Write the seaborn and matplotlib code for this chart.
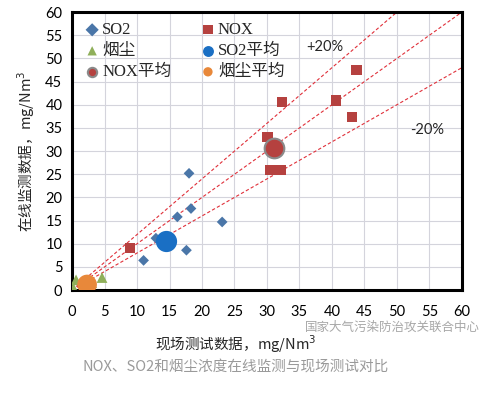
import numpy as np
import pandas as pd
import matplotlib.pyplot as plt
import seaborn as sns

# data
so2_x = [18.0, 18.3, 16.2, 23.1, 12.9, 17.6, 11.0]
so2_y = [25.2, 17.6, 15.8, 14.7, 11.2, 8.6, 6.4]
nox_x = [8.9, 30.1, 30.5, 32.1, 32.3, 40.6, 43.8, 43.1]
nox_y = [9.1, 33.0, 25.9, 25.9, 40.6, 40.9, 47.5, 37.3]
dust_x = [0.6, 4.6, 0.2, 2.0, 3.0]
dust_y = [2.2, 2.7, 0.4, 1.0, 1.6]
so2_avg = (14.4, 10.6)
nox_avg = (31.1, 30.6)
dust_avg = (2.3, 1.2)

ref_x = [0, 60]
ref_slopes = [1.2, 1.0, 0.8]

ticks = list(range(0, 61, 5))

sns.set_style("white")
plt.rcParams['font.family'] = ['Lato', 'Noto Sans CJK SC', 'DejaVu Sans']

fig = plt.figure(figsize=(4.81, 3.93), dpi=100)
ax = fig.add_axes([0.150, 0.262, 0.810, 0.707])

# reference lines
for k in ref_slopes:
    ax.plot(ref_x, [k * v for v in ref_x], ls=(0, (3, 2)), color="#e0303a",
            lw=0.8, zorder=2)

df_so2 = pd.DataFrame({"x": so2_x, "y": so2_y})
df_nox = pd.DataFrame({"x": nox_x, "y": nox_y})
df_dust = pd.DataFrame({"x": dust_x, "y": dust_y})

sns.scatterplot(data=df_so2, x="x", y="y", marker="D", s=30, color="#4a76a8",
                edgecolor="none", label="SO2", ax=ax, zorder=3)
sns.scatterplot(data=df_nox, x="x", y="y", marker="s", s=55, color="#b5413f",
                edgecolor="none", label="NOX", ax=ax, zorder=3)
sns.scatterplot(data=df_dust, x="x", y="y", marker="^", s=60, color="#8faf5a",
                edgecolor="none", label="烟尘", ax=ax, zorder=3)
sns.scatterplot(x=[so2_avg[0]], y=[so2_avg[1]], marker="o", s=200,
                color="#1a6fc4", edgecolor="#1a6fc4", label="SO2平均", ax=ax, zorder=4)
sns.scatterplot(x=[nox_avg[0]], y=[nox_avg[1]], marker="o", s=200,
                color="#b5413f", edgecolor="#8a8a8a", linewidth=1.5,
                label="NOX平均", ax=ax, zorder=4)
sns.scatterplot(x=[dust_avg[0]], y=[dust_avg[1]], marker="o", s=200,
                color="#e8883a", edgecolor="none", label="烟尘平均", ax=ax, zorder=4)

ax.set_xlim(0, 60)
ax.set_ylim(0, 60)
ax.set_xticks(ticks)
ax.set_yticks(ticks)
ax.grid(True, color="#d4d4dc", lw=0.8)
ax.set_axisbelow(True)
for sp in ax.spines.values():
    sp.set_color("black")
    sp.set_linewidth(2.2)
ax.tick_params(axis="both", direction="out", length=4, width=1, labelsize=10.5,
               colors="black", pad=3)
ax.tick_params(axis="x", pad=7)

ax.set_xlabel("现场测试数据，mg/Nm$^3$", fontsize=10.5,
              family=['Noto Sans CJK SC', 'DejaVu Serif'])
ax.xaxis.set_label_coords(0.42, -0.155)
ax.set_ylabel("在线监测数据，mg/Nm$^3$", fontsize=10.5, labelpad=6,
              family=['Noto Sans CJK SC', 'DejaVu Serif'])

ax.text(38.9, 52.4, "+20%", fontsize=10.5, ha="center", va="center")
ax.text(54.6, 34.5, "-20%", fontsize=10.5, ha="center", va="center")

# legend filled row by row like the original
h, l = ax.get_legend_handles_labels()
order = [0, 2, 4, 1, 3, 5]
leg = ax.legend([h[i] for i in order], [l[i] for i in order],
                loc="upper left", ncol=2, frameon=False,
                handletextpad=0.0, columnspacing=1.6, labelspacing=0.3,
                borderaxespad=0.2, handlelength=1.2,
                prop={'family': ['Liberation Serif', 'Noto Sans CJK SC'], 'size': 12})
for hd in leg.legend_handles:
    hd.set_sizes([45])

fig.text(0.815, 0.168, "国家大气污染防治攻关联合中心", fontsize=9, color="#a8a8a8",
         ha="center", va="center", family=['Noto Sans CJK SC'])
fig.text(0.49, 0.066, "NOX、SO2和烟尘浓度在线监测与现场测试对比", fontsize=10.5,
         color="#9a9a9a", ha="center", va="center", family=['Noto Sans CJK SC'])

fig.savefig("out.png", dpi=100)
